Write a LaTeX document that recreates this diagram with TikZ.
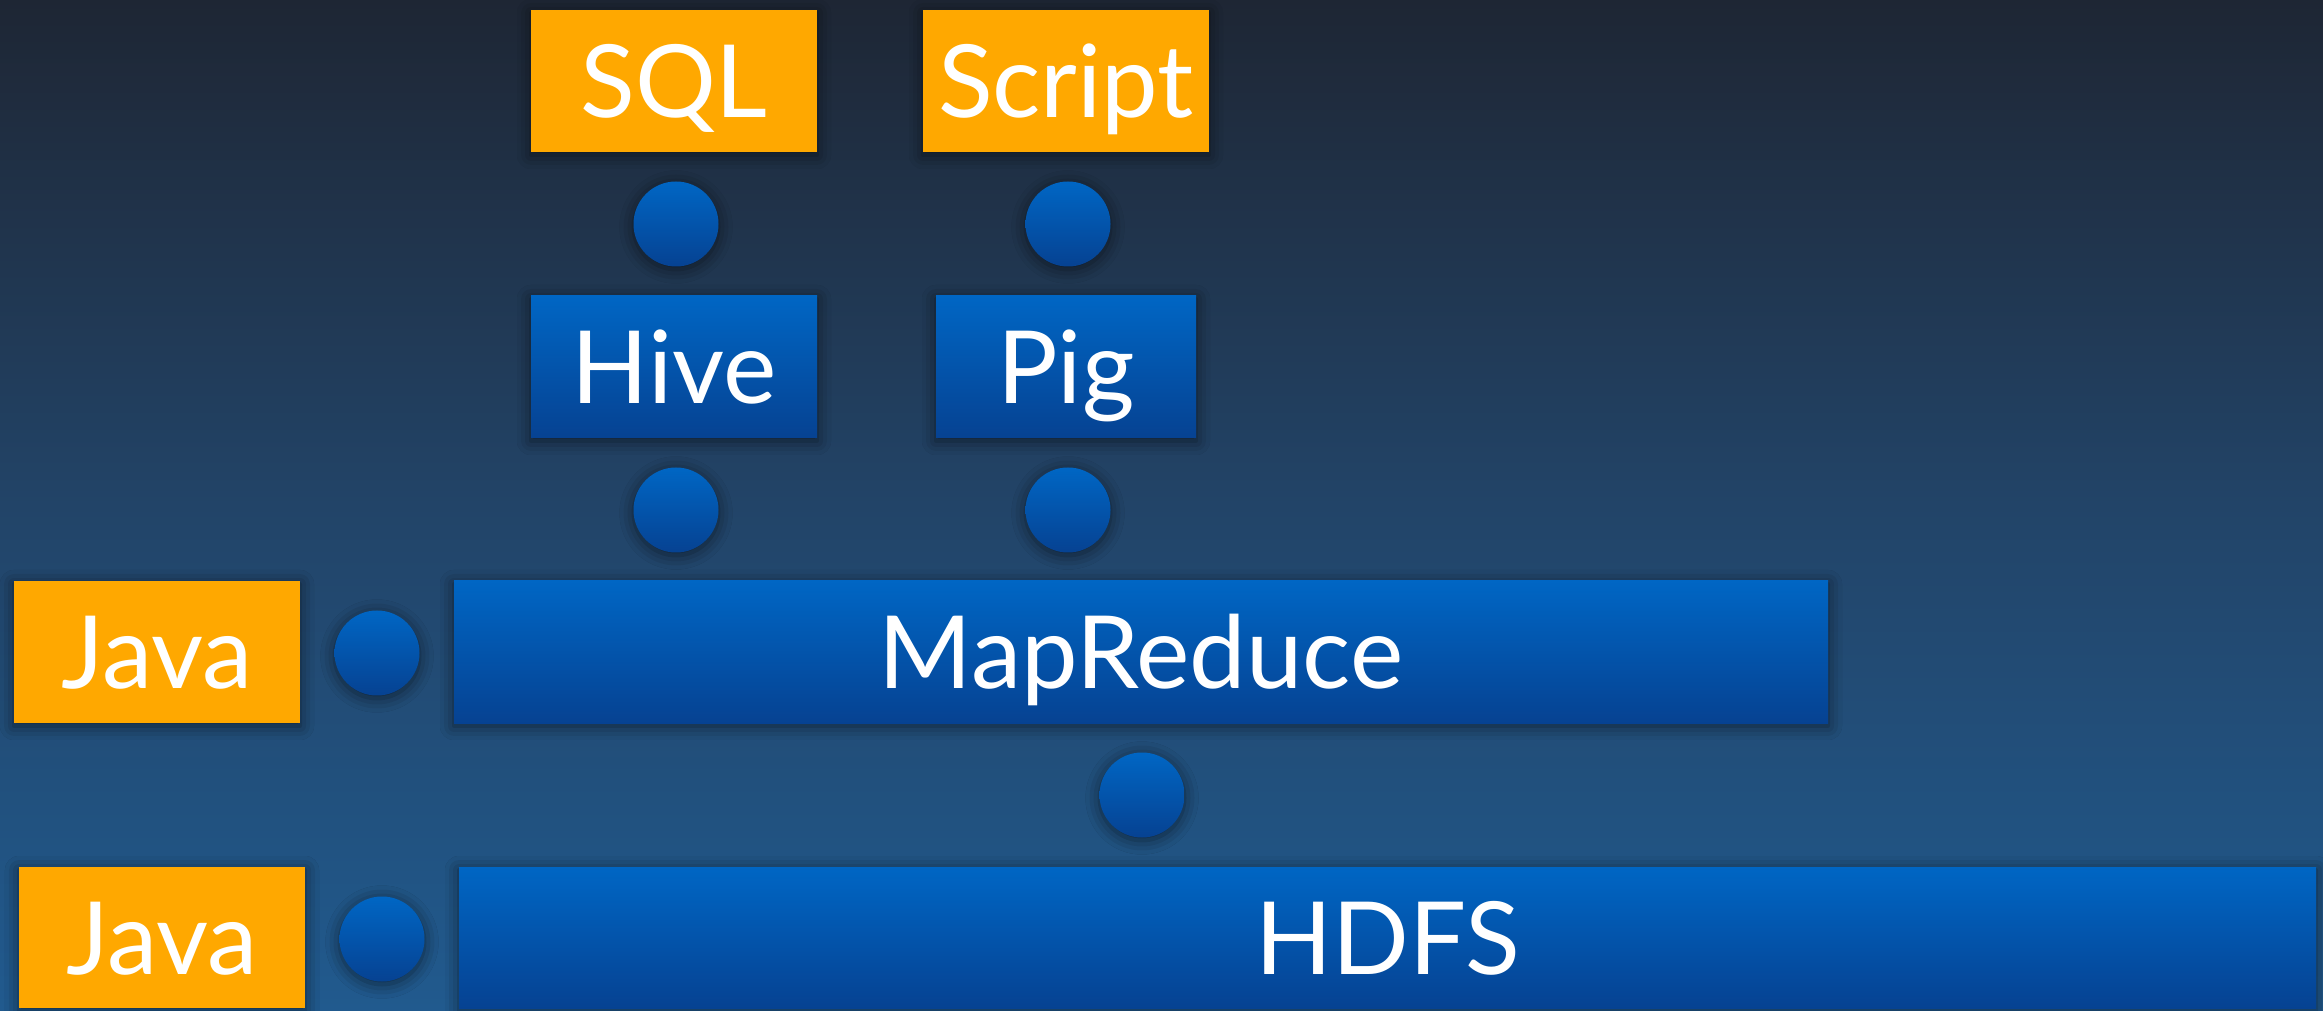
\documentclass[tikz,border=0pt]{standalone}
\usepackage{fontspec}
\setmainfont{Lato}
\usetikzlibrary{shadows.blur}
\definecolor{bgtop}{RGB}{30,38,52}
\definecolor{bgmid}{RGB}{34,68,104}
\definecolor{bgbot}{RGB}{33,90,142}
\definecolor{bluetop}{RGB}{0,102,196}
\definecolor{bluebot}{RGB}{6,66,146}
\definecolor{orangebox}{RGB}{255,168,0}
\tikzset{
  shd/.style={blur shadow={shadow xshift=0pt,shadow yshift=-3pt,shadow blur radius=14pt,shadow opacity=55}},
  boxbase/.style={rectangle,inner sep=0pt,minimum height=142pt,text=white,
     font=\fontsize{101}{101}\selectfont,text height=73pt,text depth=0pt,shd},
  bluebox/.style={boxbase,top color=bluetop,bottom color=bluebot,draw=none},
  orangebox/.style={boxbase,fill=orangebox},
  dot/.style={circle,inner sep=0pt,minimum size=85pt,top color=bluetop,bottom color=bluebot,draw=none,shd}
}
\begin{document}
\begin{tikzpicture}[x=1pt,y=1pt]
\shade[top color=bgtop,bottom color=bgbot,middle color=bgmid] (0,0) rectangle (2323,1010);
\useasboundingbox (0,0) rectangle (2323,1010);
% top row
\node[orangebox,minimum width=286pt] (sql) at (674,929) {SQL};
\node[orangebox,minimum width=286pt] (script) at (1066,929) {Script};
\node[dot] (d1) at (676,786) {};
\node[dot] (d2) at (1068,786) {};
\node[bluebox,minimum width=286pt] (hive) at (674,643) {Hive};
\node[bluebox,minimum width=260pt] (pig) at (1066,643) {Pig};
\node[dot] (d3) at (676,500) {};
\node[dot] (d4) at (1068,500) {};
\node[orangebox,minimum width=286pt] (java1) at (157,358) {Java};
\node[dot] (d5) at (377,357) {};
\node[bluebox,minimum width=1374pt] (mr) at (1141,358) {MapReduce};
\node[dot] (d6) at (1142,215) {};
\node[orangebox,minimum width=286pt,minimum height=141pt] (java2) at (162,72.5) {Java};
\node[dot] (d7) at (382,71) {};
\node[bluebox,minimum width=1857pt,minimum height=141pt] (hdfs) at (1387.5,72.5) {HDFS};
\end{tikzpicture}
\end{document}
